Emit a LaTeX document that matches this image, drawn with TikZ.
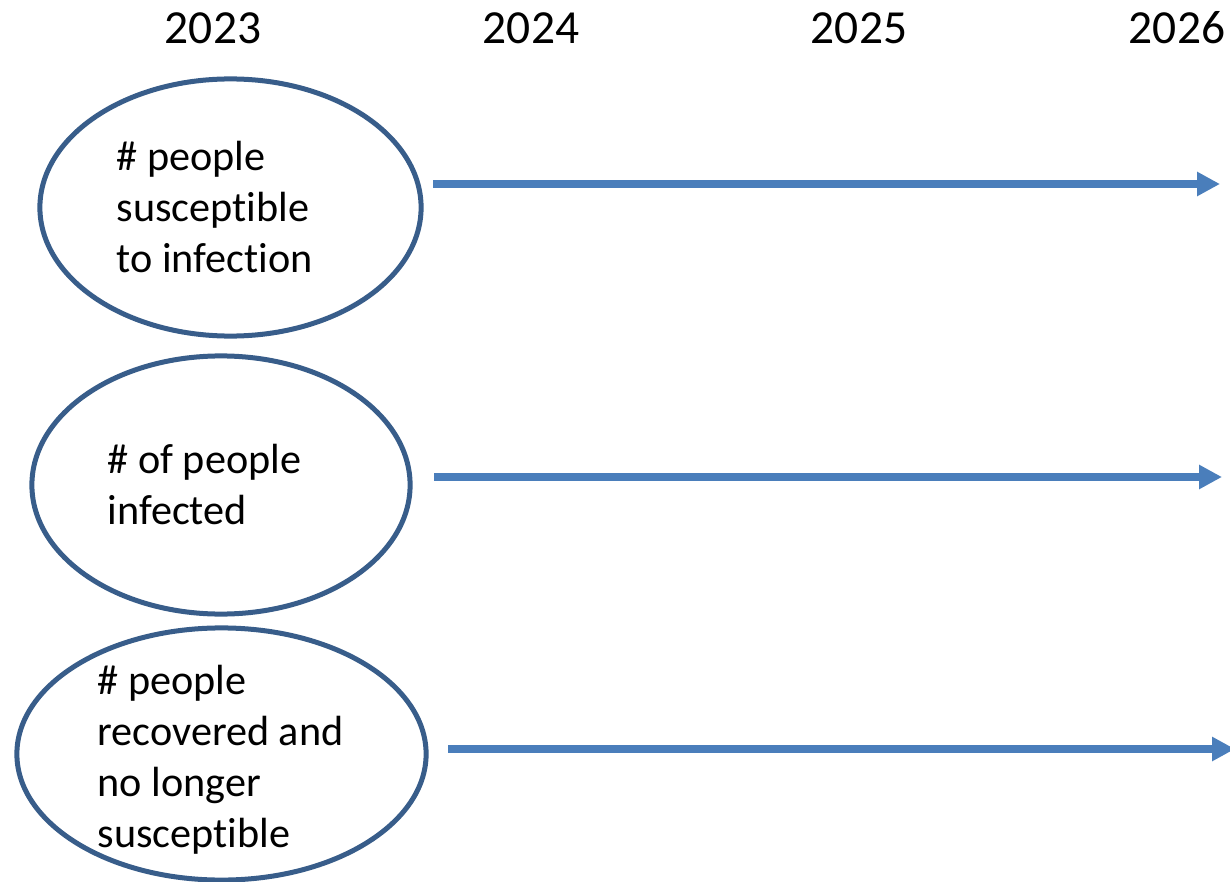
\documentclass[tikz,border=0pt]{standalone}
\usepackage{fontspec}
\setmainfont[Ligatures=NoCommon]{Carlito}
\usetikzlibrary{arrows.meta,shapes.geometric}
\definecolor{rimblue}{HTML}{385D8A}
\definecolor{flowblue}{HTML}{4A7EBB}

\begin{document}
\begin{tikzpicture}[x=0.01cm, y=-0.01cm,
  pool/.style={ellipse, draw=rimblue, line width=0.05cm, inner sep=0pt},
  poollabel/.style={anchor=base west, align=left, inner sep=0pt,
    font=\fontsize{12}{14.5}\selectfont},
  year/.style={anchor=base, inner sep=0pt, font=\fontsize{13.5}{16}\selectfont},
  flow/.style={-{Triangle[length=0.23cm,width=0.23cm]}, draw=flowblue,
    line width=0.075cm}]
\useasboundingbox (0,0) rectangle (1230,882);
% time axis
\foreach \yr/\x in {2023/213,2024/531,2025/859,2026/1177}
  \node[year] (y\yr) at (\x,44) {\yr};
% the three pools
\node[pool, minimum width=3.81cm, minimum height=2.57cm] (sus) at (230.5,207.5) {};
\node[pool, minimum width=3.78cm, minimum height=2.58cm] (inf) at (221,485) {};
\node[pool, minimum width=4.09cm, minimum height=2.52cm] (rec) at (221.5,754) {};
% labels sit on the baseline of their last line
\node[poollabel] (sustxt) at (116,272) {\# people\\susceptible\\to infection};
\node[poollabel] (inftxt) at (107,524) {\# of people\\infected};
\node[poollabel] (rectxt) at (97,847) {\# people\\recovered and\\no longer\\susceptible};
% arrows over time
\foreach \n/\xa/\xb/\y in {s/433/1220/184,i/434/1222/477,r/448/1235/749}{
  \coordinate (\n0) at (\xa,\y);
  \coordinate (\n1) at (\xb,\y);
  \draw[flow] (\n0) -- (\n1);
}
\end{tikzpicture}
\end{document}
